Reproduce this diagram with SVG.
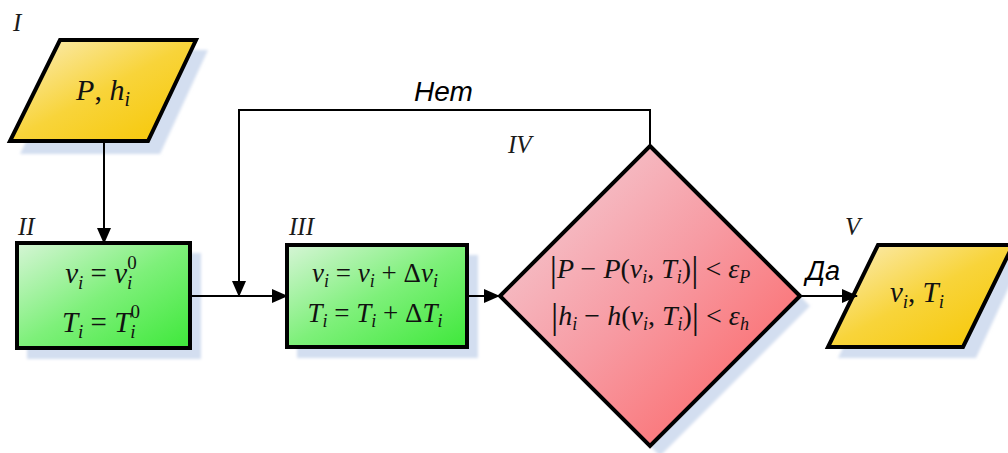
<svg xmlns="http://www.w3.org/2000/svg" width="1008" height="453" viewBox="0 0 1008 453">
<defs>
<linearGradient id="gY" x1="0" y1="0" x2="1" y2="1"><stop offset="0" stop-color="#fbeec0"/><stop offset="0.5" stop-color="#f8d43a"/><stop offset="1" stop-color="#f6c600"/></linearGradient>
<linearGradient id="gG" x1="0" y1="0" x2="1" y2="1"><stop offset="0" stop-color="#d6f5d6"/><stop offset="0.5" stop-color="#7ef07a"/><stop offset="1" stop-color="#3ee83a"/></linearGradient>
<linearGradient id="gR" x1="0" y1="0" x2="1" y2="1"><stop offset="0" stop-color="#f4d4dc"/><stop offset="0.5" stop-color="#f79aa2"/><stop offset="1" stop-color="#fd5c5c"/></linearGradient>
<filter id="blur" x="-10%" y="-10%" width="120%" height="120%"><feGaussianBlur stdDeviation="1.5"/></filter>
<marker id="ah" viewBox="0 0 16 14" refX="15" refY="7" markerWidth="16" markerHeight="14" markerUnits="userSpaceOnUse" orient="auto"><path d="M0,0 L16,7 L0,14 Z" fill="#000"/></marker>
</defs>
<style>
.sh{fill:#d3def0;filter:url(#blur)}
.node{stroke:#000;stroke-width:4;stroke-linejoin:miter}
.m{font-family:"Liberation Serif","Times New Roman",serif;font-style:italic;fill:#111;text-anchor:middle}
.up{font-style:normal}
.lab{font-family:"Liberation Serif","Times New Roman",serif;font-style:italic;font-size:25px;fill:#1a1a1a}
.cl{font-family:"Liberation Sans",Arial,sans-serif;font-style:italic;fill:#000}
.con{fill:none;stroke:#000;stroke-width:2}
</style>
<rect width="1008" height="453" fill="#fff"/>

<g id="node-I">
<polygon class="sh" points="70,50 208,50 160,154 20,154"/>
<polygon class="node" fill="url(#gY)" points="60,40 196,40 148,141 10,141"/>
<text class="lab" x="13" y="31">I</text>
<text class="m" x="103" y="100" style="font-size:30px">P<tspan class="up">, </tspan>h<tspan style="font-size:20px" dy="6">i</tspan></text>
</g>

<g id="node-II">
<rect class="sh" x="27" y="253" width="174" height="106"/>
<rect class="node" fill="url(#gG)" x="17" y="243" width="173" height="105"/>
<text class="lab" x="18" y="235">II</text>
<text class="m" x="101" y="283" style="font-size:29px">v<tspan style="font-size:19px" dy="6">i</tspan><tspan class="up" dy="-6"> = </tspan>v<tspan style="font-size:19px" dy="6">i</tspan><tspan class="up" style="font-size:19px" dx="-5" dy="-20">0</tspan></text>
<text class="m" x="101" y="332" style="font-size:29px">T<tspan style="font-size:19px" dy="6">i</tspan><tspan class="up" dy="-6"> = </tspan>T<tspan style="font-size:19px" dy="6">i</tspan><tspan class="up" style="font-size:19px" dx="-5" dy="-20">0</tspan></text>
</g>

<g id="node-III">
<rect class="sh" x="297" y="255" width="181" height="103"/>
<rect class="node" fill="url(#gG)" x="287" y="245" width="180" height="102"/>
<text class="lab" x="289" y="235">III</text>
<text class="m" x="375" y="282" style="font-size:27px">v<tspan style="font-size:18px" dy="5">i</tspan><tspan class="up" dy="-5"> = </tspan>v<tspan style="font-size:18px" dy="5">i</tspan><tspan class="up" dy="-5"> + Δ</tspan>v<tspan style="font-size:18px" dy="5">i</tspan></text>
<text class="m" x="375" y="322" style="font-size:27px">T<tspan style="font-size:18px" dy="5">i</tspan><tspan class="up" dy="-5"> = </tspan>T<tspan style="font-size:18px" dy="5">i</tspan><tspan class="up" dy="-5"> + Δ</tspan>T<tspan style="font-size:18px" dy="5">i</tspan></text>
</g>

<g id="node-IV">
<polygon class="sh" points="660,156 810,306 660,456 510,306"/>
<polygon class="node" fill="url(#gR)" points="650,146 800,296 650,446 500,296"/>
<text class="lab" x="508" y="153">IV</text>
<text class="m" x="650" y="278" style="font-size:28px"><tspan class="up" style="font-size:36px" dy="3">|</tspan><tspan dy="-3">P </tspan><tspan class="up">− </tspan>P<tspan class="up">(</tspan>v<tspan style="font-size:18px" dy="5">i</tspan><tspan class="up" dy="-5">, </tspan>T<tspan style="font-size:18px" dy="5">i</tspan><tspan class="up" dy="-5">)</tspan><tspan class="up" style="font-size:36px" dy="3">|</tspan><tspan class="up" dy="-3"> &lt; </tspan>ε<tspan style="font-size:18px" dy="5">P</tspan></text>
<text class="m" x="650" y="325" style="font-size:28px"><tspan class="up" style="font-size:36px" dy="3">|</tspan><tspan dy="-3">h</tspan><tspan style="font-size:18px" dy="5">i</tspan><tspan class="up" dy="-5"> − </tspan>h<tspan class="up">(</tspan>v<tspan style="font-size:18px" dy="5">i</tspan><tspan class="up" dy="-5">, </tspan>T<tspan style="font-size:18px" dy="5">i</tspan><tspan class="up" dy="-5">)</tspan><tspan class="up" style="font-size:36px" dy="3">|</tspan><tspan class="up" dy="-3"> &lt; </tspan>ε<tspan style="font-size:18px" dy="5">h</tspan></text>
</g>

<g id="node-V">
<polygon class="sh" points="888,255 1024,255 976,358 838,358"/>
<polygon class="node" fill="url(#gY)" points="878,245 1013,245 963,347 828,347"/>
<text class="lab" x="845" y="235">V</text>
<text class="m" x="917" y="302" style="font-size:29px">v<tspan style="font-size:19px" dy="6">i</tspan><tspan class="up" dy="-6">, </tspan>T<tspan style="font-size:19px" dy="6">i</tspan></text>
</g>

<g id="connectors">
<path class="con" d="M104,143 L104,243" marker-end="url(#ah)"/>
<path class="con" d="M191,296 L287,296" marker-end="url(#ah)"/>
<path class="con" d="M650,146 L650,110 L239,110 L239,296" marker-end="url(#ah)"/>
<path class="con" d="M469,296 L499,296" marker-end="url(#ah)"/>
<path class="con" d="M802,296 L857,296" marker-end="url(#ah)"/>
<text class="cl" x="414" y="101" style="font-size:28px">Нет</text>
<text class="cl" x="806" y="280" style="font-size:27px">Да</text>
</g>
</svg>
